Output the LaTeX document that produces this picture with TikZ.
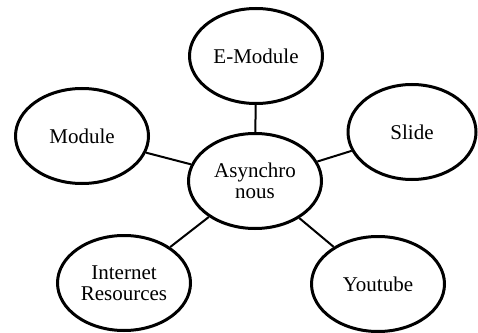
\documentclass[tikz,border=0pt]{standalone}
\usepackage{fontspec}
\setmainfont{Liberation Serif}
\usetikzlibrary{shapes.geometric}
\begin{document}
\begin{tikzpicture}[x=1pt,y=1pt,
  topic/.style={ellipse, draw, line width=3pt, minimum width=133pt, minimum height=95pt,
    inner sep=0pt, align=center, font=\fontsize{21}{21}\selectfont},
  link/.style={line width=2pt}]
  \useasboundingbox (0,0) rectangle (478,332);
  % central topic
  \node[topic] (asyn) at (255,151) {Asynchro\\nous};
  % surrounding topics
  \node[topic] (emod) at (256,276) {E-Module};
  \node[topic] (mod)  at (82,196)  {Module};
  \node[topic, minimum width=128pt] (slide) at (412,200) {Slide};
  \node[topic] (inet) at (124,49)  {Internet\\Resources};
  \node[topic] (yt)   at (378,48)  {Youtube};
  % connectors
  \draw[link] (asyn) -- (emod);
  \draw[link] (asyn) -- (mod);
  \draw[link] (asyn) -- (slide);
  \draw[link] (asyn) -- (inet);
  \draw[link] (asyn) -- (yt);
\end{tikzpicture}
\end{document}
